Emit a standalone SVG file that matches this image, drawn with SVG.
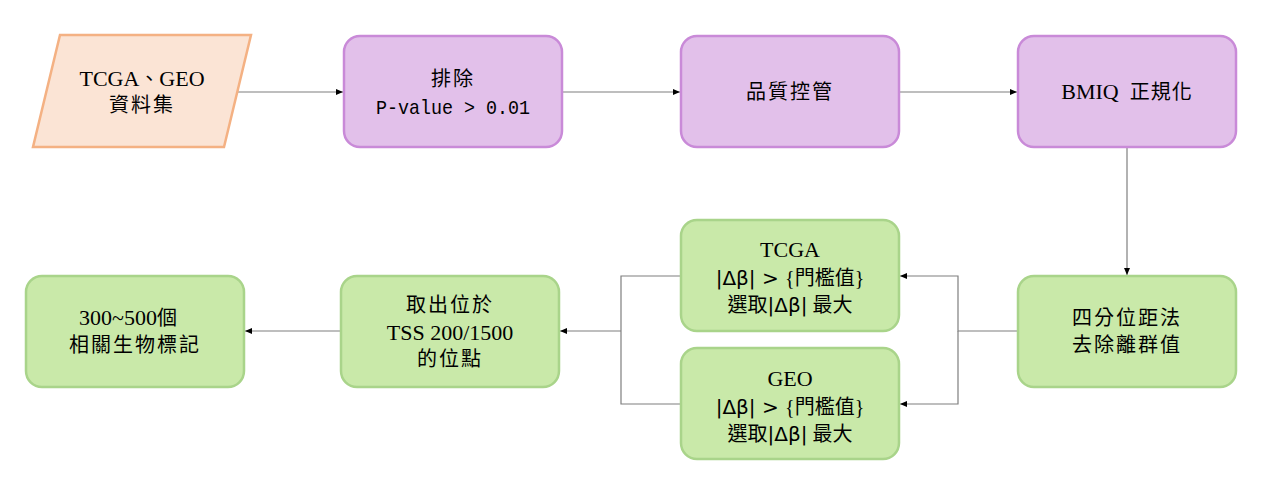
<svg xmlns="http://www.w3.org/2000/svg" width="1269" height="501" viewBox="0 0 1269 501">
<defs>
<marker id="arr" markerWidth="8" markerHeight="8" refX="7" refY="4" orient="auto" markerUnits="userSpaceOnUse">
<path d="M0,1 L7,4 L0,7 Z" fill="#000"/>
</marker>
<style>
.orange{fill:#fbe4d5;stroke:#f4b183;stroke-width:2.5}
.purple{fill:#e2c0ea;stroke:#c98ad8;stroke-width:2.5}
.green{fill:#c9e9a9;stroke:#a9d48a;stroke-width:2.5}
.t{font-family:"Liberation Serif","Noto Sans CJK TC",serif;font-size:22px;fill:#000;text-anchor:middle}
.cjk{letter-spacing:2px;font-size:20px}
.mono{font-family:"Liberation Mono","Noto Sans CJK TC",monospace;font-size:21px}
.sans{font-family:"DejaVu Sans","Noto Sans",sans-serif;font-size:20px}
.k{font-size:20px}
.c{fill:none;stroke:#7f7f7f;stroke-width:1.2}
</style>
</defs>
<rect width="1269" height="501" fill="#fff"/>
<g id="connectors">
<path class="c" d="M237,92 H343" marker-end="url(#arr)"/>
<path class="c" d="M562,92 H680" marker-end="url(#arr)"/>
<path class="c" d="M899,92 H1017" marker-end="url(#arr)"/>
<path class="c" d="M1127,147 V275" marker-end="url(#arr)"/>
<path class="c" d="M1018,331 H958 V276 H900" marker-end="url(#arr)"/>
<path class="c" d="M958,331 V404 H900" marker-end="url(#arr)"/>
<path class="c" d="M681,276 H621 V404 H681"/>
<path class="c" d="M621,331 H560" marker-end="url(#arr)"/>
<path class="c" d="M341,331 H245" marker-end="url(#arr)"/>
</g>
<g id="n1">
<polygon class="orange" points="60,35 251,35 224,147 33,147"/>
<text class="t" x="142" y="86">TCGA<tspan class="k">、</tspan>GEO</text>
<text class="t cjk" x="142" y="112">資料集</text>
</g>
<g id="n2">
<rect class="purple" x="344" y="36" width="218" height="111" rx="16"/>
<text class="t cjk" x="453" y="86">排除</text>
<text class="t mono" x="453" y="114" textLength="154" lengthAdjust="spacingAndGlyphs">P-value &gt; 0.01</text>
</g>
<g id="n3">
<rect class="purple" x="681" y="36" width="218" height="111" rx="16"/>
<text class="t cjk" x="790" y="99">品質控管</text>
</g>
<g id="n4">
<rect class="purple" x="1018" y="36" width="218" height="111" rx="16"/>
<text class="t" x="1127" y="99" xml:space="preserve">BMIQ  <tspan class="k" letter-spacing="1">正規化</tspan></text>
</g>
<g id="n5">
<rect class="green" x="1018" y="276" width="218" height="111" rx="16"/>
<text class="t cjk" x="1127" y="325">四分位距法</text>
<text class="t cjk" x="1127" y="352">去除離群值</text>
</g>
<g id="n6">
<rect class="green" x="681" y="220" width="218" height="111" rx="16"/>
<text class="t" x="790" y="257">TCGA</text>
<text class="t" x="790" y="285"><tspan class="sans">|Δβ| &gt; </tspan><tspan class="k">{門檻值}</tspan></text>
<text class="t" x="790" y="312"><tspan class="k">選取</tspan><tspan class="sans">|Δβ|</tspan><tspan class="k"> 最大</tspan></text>
</g>
<g id="n7">
<rect class="green" x="681" y="348" width="218" height="111" rx="16"/>
<text class="t" x="790" y="386">GEO</text>
<text class="t" x="790" y="414"><tspan class="sans">|Δβ| &gt; </tspan><tspan class="k">{門檻值}</tspan></text>
<text class="t" x="790" y="441"><tspan class="k">選取</tspan><tspan class="sans">|Δβ|</tspan><tspan class="k"> 最大</tspan></text>
</g>
<g id="n8">
<rect class="green" x="341" y="276" width="218" height="111" rx="16"/>
<text class="t cjk" x="450" y="312">取出位於</text>
<text class="t" x="450" y="340">TSS 200/1500</text>
<text class="t cjk" x="450" y="366">的位點</text>
</g>
<g id="n9">
<rect class="green" x="26" y="276" width="218" height="111" rx="16"/>
<text class="t" x="128" y="325">300~500<tspan class="k">個</tspan></text>
<text class="t cjk" x="135" y="352">相關生物標記</text>
</g>
</svg>
